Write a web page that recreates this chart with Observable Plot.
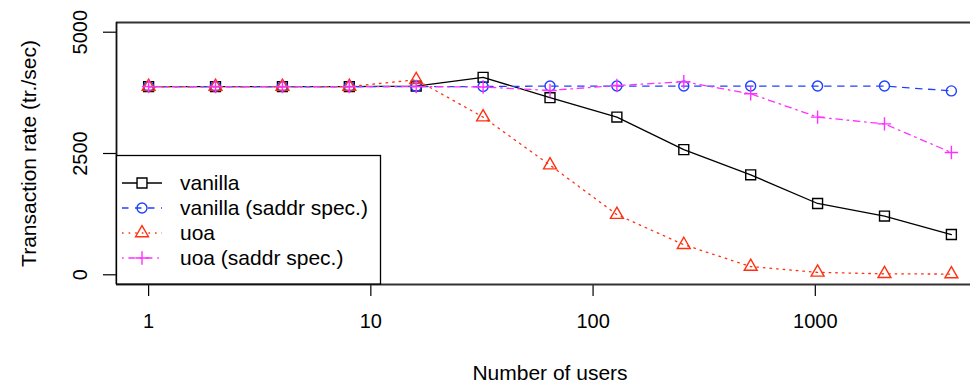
<!DOCTYPE html>
<html>
<head>
<meta charset="utf-8">
<script src="https://cdn.jsdelivr.net/npm/d3@7"></script>
<script src="https://cdn.jsdelivr.net/npm/@observablehq/plot@0.6"></script>
<style>
  html, body { margin: 0; padding: 0; background: #fff; }
  #chart { width: 970px; height: 388px; overflow: hidden; }
</style>
</head>
<body>
<div id="chart"></div>
<script>
// ---- data ----
const users = [1, 2, 4, 8, 16, 32, 64, 128, 256, 512, 1024, 2048, 4096];
const vanilla      = [3880, 3880, 3880, 3880, 3890, 4070, 3650, 3250, 2580, 2060, 1470, 1210, 830];
const vanillaSaddr = [3880, 3880, 3880, 3880, 3880, 3880, 3890, 3890, 3890, 3890, 3890, 3890, 3790];
const uoa          = [3880, 3880, 3880, 3880, 4020, 3250, 2260, 1240, 620, 170, 50, 20, 15];
const uoaSaddr     = [3880, 3880, 3880, 3880, 3880, 3870, 3800, 3900, 3980, 3730, 3250, 3110, 2520];
const seriesNames = ["vanilla", "vanilla (saddr spec.)", "uoa", "uoa (saddr spec.)"];
const seriesValues = [vanilla, vanillaSaddr, uoa, uoaSaddr];
const xTicks = [1, 10, 100, 1000];
const yTicks = [0, 2500, 5000];
const yLimits = [0, 5000];
const xLabel = "Number of users";
const yLabel = "Transaction rate (tr./sec)";

// ---- styles ----
const styles = [
  {stroke: "#000000", dash: null,              symbol: "square",   d3sym: d3.symbolSquare,   r: 5.6},
  {stroke: "#2040ff", dash: "6.5,6.5",         symbol: "circle",   d3sym: d3.symbolCircle,   r: 5},
  {stroke: "#ff3010", dash: "1.6,5",           symbol: "triangle", d3sym: d3.symbolTriangle, r: 4.8},
  {stroke: "#ff30ff", dash: "1.6,4.8,6.4,4.8", symbol: "plus",     d3sym: d3.symbolPlus,     r: 4.4}
];

const rows = users.flatMap((u, i) => seriesValues.map((vals, k) => ({users: u, rate: vals[i], series: seriesNames[k], k})));

// R-style 4% axis extension
const lx0 = Math.log10(d3.min(users)), lx1 = Math.log10(d3.max(users));
const ex = (lx1 - lx0) * 0.04;
const xDomain = [10 ** (lx0 - ex), 10 ** (lx1 + ex)];
const xMid = 10 ** ((lx0 + lx1) / 2);
const ey = (yLimits[1] - yLimits[0]) * 0.04;
const yDomain = [yLimits[0] - ey, yLimits[1] + ey];

const W = 970, H = 388, mL = 116, mT = 22, mB = 104;
const font = "'Liberation Sans', Arial, Helvetica, sans-serif";

const seriesMarks = styles.flatMap((s, k) => {
  const d = rows.filter(r => r.k === k);
  return [
    Plot.line(d, {x: "users", y: "rate", stroke: s.stroke, strokeWidth: 1.3, strokeDasharray: s.dash}),
    Plot.dot(d, {x: "users", y: "rate", symbol: () => s.symbol, r: s.r, stroke: s.stroke, fill: "none", strokeWidth: 1.4})
  ];
});

const svg = Plot.plot({
  width: W, height: H,
  marginLeft: mL, marginRight: 0, marginTop: mT, marginBottom: mB,
  style: {fontFamily: font, fontSize: "20px", background: "#fff", color: "#000", overflow: "hidden"},
  symbol: {type: "identity"},
  x: {type: "log", domain: xDomain, range: [mL, 983], axis: null},
  y: {domain: yDomain, axis: null},
  marks: [
    Plot.axisX({ticks: xTicks, tickSize: 12, tickPadding: 17, fontSize: 20, tickFormat: d => String(d), label: null, strokeWidth: 1.2}),
    Plot.axisY({ticks: yTicks, tickSize: 13, fill: "none", label: null, strokeWidth: 1.2}),
    Plot.text(yTicks, {y: d => d, text: d => String(d), frameAnchor: "left", dx: -36, rotate: -90, textAnchor: "middle", lineAnchor: "middle", fontSize: 20}),
    Plot.text([xLabel], {x: xMid, frameAnchor: "bottom", dy: 89, textAnchor: "middle", lineAnchor: "middle", fontSize: 21}),
    Plot.text([yLabel], {y: (yLimits[0] + yLimits[1]) / 2, frameAnchor: "left", dx: -87, rotate: -90, textAnchor: "middle", lineAnchor: "middle", fontSize: 21}),
    ...seriesMarks,
    Plot.ruleY([yDomain[0], yDomain[1]], {stroke: "#333", strokeWidth: 1.8}),
    Plot.ruleX([xDomain[0]], {stroke: "#111", strokeWidth: 1.8})
  ]
});

// ---- legend (R-style, bottom-left corner) ----
const g = d3.select(svg).append("g").attr("font-family", font).attr("font-size", 21).attr("text-anchor", "start");
g.append("rect").attr("x", 116.5).attr("y", 155.5).attr("width", 264).attr("height", 128.5)
  .attr("fill", "#fff").attr("stroke", "#000").attr("stroke-width", 1.3);
seriesNames.forEach((name, k) => {
  const s = styles[k];
  const cy = 183 + 25 * k;
  g.append("line").attr("x1", 122).attr("x2", 162).attr("y1", cy).attr("y2", cy)
    .attr("stroke", s.stroke).attr("stroke-width", 1.3).attr("stroke-dasharray", s.dash);
  g.append("path").attr("transform", `translate(142,${cy})`)
    .attr("d", d3.symbol().type(s.d3sym).size(Math.PI * s.r * s.r)())
    .attr("fill", s.symbol === "square" ? "#fff" : "none").attr("stroke", s.stroke).attr("stroke-width", 1.4);
  g.append("text").attr("x", 180).attr("y", cy).attr("dy", "0.35em").attr("text-anchor", "start").attr("fill", "#000").text(name);
});

document.getElementById("chart").appendChild(svg);
</script>
</body>
</html>
